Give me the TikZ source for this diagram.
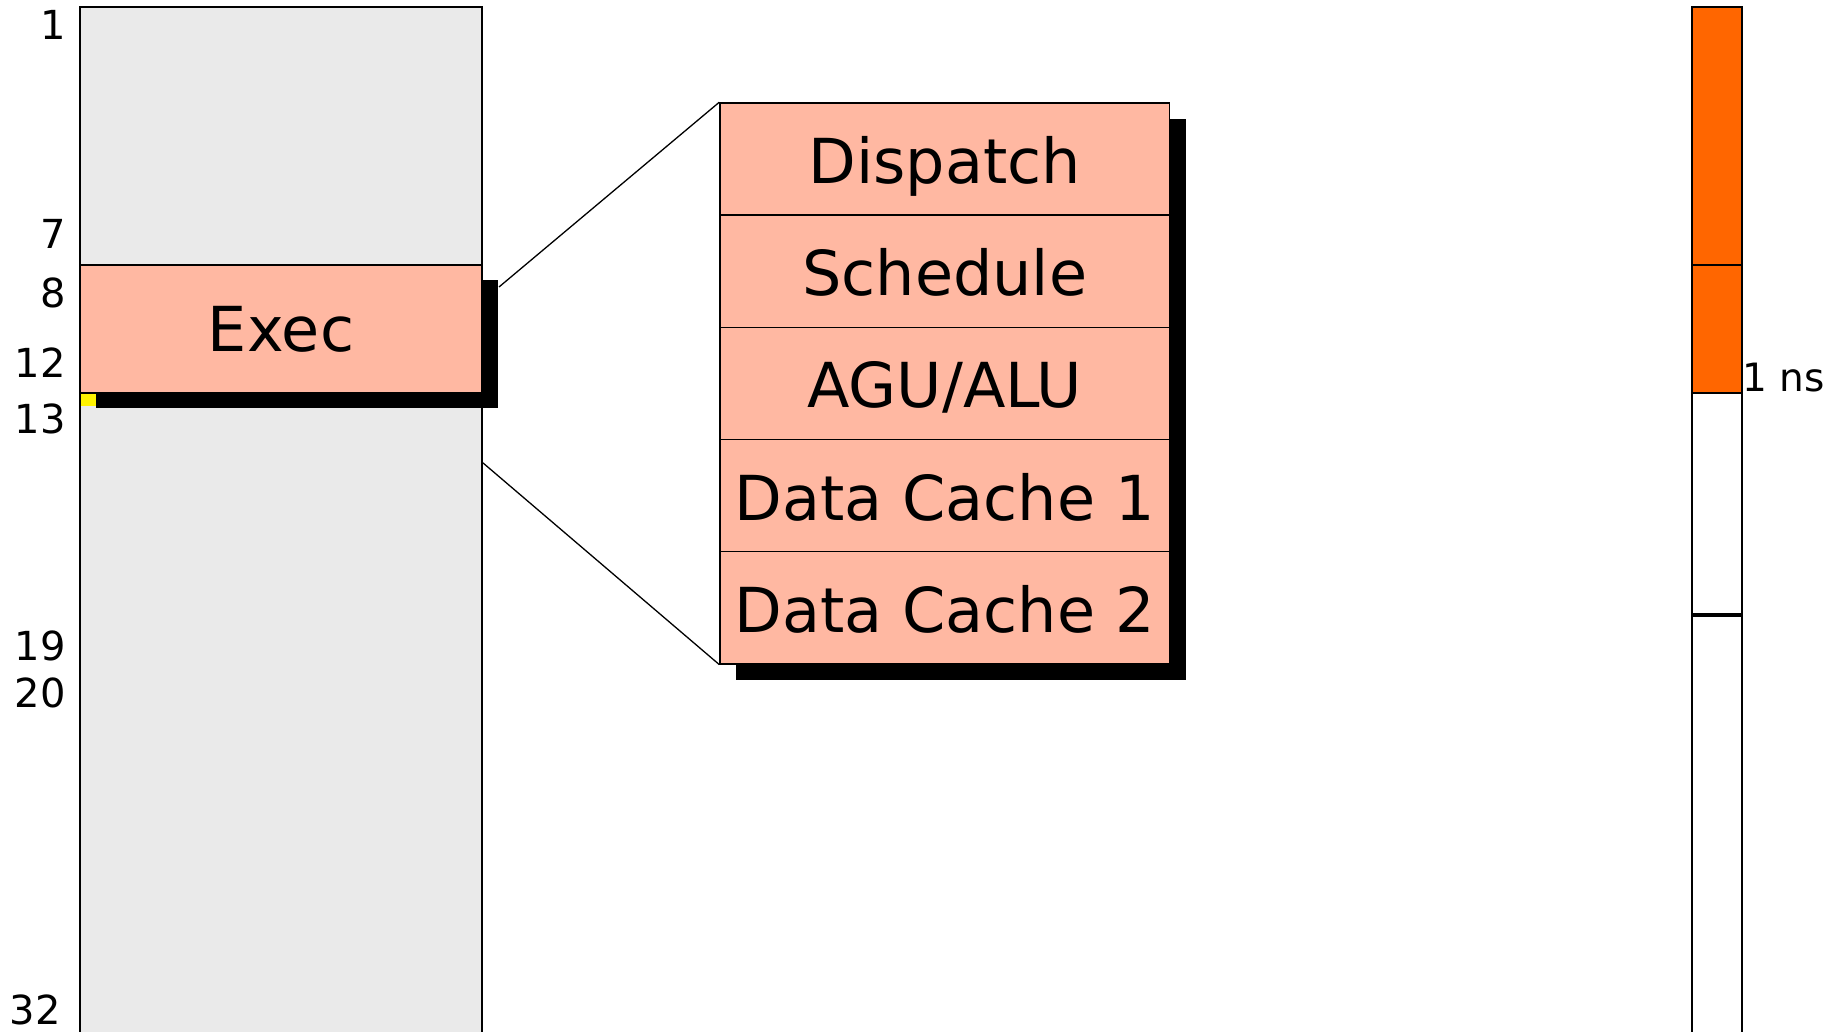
\documentclass[tikz,border=0pt]{standalone}
\usepackage{fontspec}
\setmainfont{DejaVu Sans}
\usetikzlibrary{calc,shadows}
\definecolor{stagepink}{HTML}{FFB8A2}
\definecolor{filegray}{HTML}{EAEAEA}
\definecolor{clockorange}{HTML}{FF6600}
\begin{document}
\begin{tikzpicture}[x=1pt,y=-1pt,
  column/.style={draw=black, inner sep=0pt},
  stage/.style={draw=black, line width=1.4pt, fill=stagepink,
    minimum width=449.5pt, minimum height=112.2pt, inner sep=0pt,
    font=\fontsize{62}{70}\selectfont, text height=49pt, text depth=0pt,
    drop shadow={shadow xshift=16pt, shadow yshift=-16pt, opacity=1, fill=black}},
  rowlabel/.style={anchor=base east, inner sep=0pt, font=\fontsize{40}{48}\selectfont},
  zoomline/.style={line width=1.3pt}]
\useasboundingbox (0,0) rectangle (1843,1032);

% pipeline depth column
\node[column, line width=2pt, fill=filegray, minimum width=402pt, minimum height=1040pt] (rf) at (281,527) {};
\foreach \y/\t in {40/1, 248/7, 307/8, 377/12, 433/13, 660/19, 707/20}
  \node[rowlabel] (lbl\t) at (66,\y) {\t};
\node[rowlabel] (lbl32) at (61,1024) {32};

% execute stage inside the column
\node[draw=black, line width=2pt, fill=stagepink, minimum width=402pt, minimum height=128pt,
  inner sep=0pt, font=\fontsize{62}{70}\selectfont, text height=44pt, text depth=0pt,
  drop shadow={shadow xshift=16pt, shadow yshift=-15pt, opacity=1, fill=black}]
  (exec) at (281,329) {Exec};
\fill[yellow] (81,394) rectangle (96,406);

% expanded execute stages
\node[stage] (dispatch) at (944.75,159)   {Dispatch};
\node[stage] (schedule) at (944.75,271.2) {Schedule};
\node[stage] (agu)      at (944.75,383.4) {AGU/ALU};
\node[stage] (dc1)      at (944.75,495.6) {Data Cache 1};
\node[stage] (dc2)      at (944.75,607.8) {Data Cache 2};

% zoom lines
\draw[zoomline] ($(exec.north east)+(16,23)$) -- (dispatch.north west);
\draw[zoomline] ($(rf.north east)!0.4385!(rf.south east)$) -- (dc2.south west);

% clock period bar
\node[column, line width=1.8pt, fill=white, minimum width=50pt, minimum height=1040pt] (clk) at (1717,527) {};
\draw[line width=1.8pt, fill=clockorange] (1692,7) rectangle (1742,265);
\draw[line width=1.8pt, fill=clockorange] (1692,265) rectangle (1742,393);
\draw[line width=3.6pt] (1692,615) -- (1742,615);
\node[anchor=base west, inner sep=0pt, font=\fontsize{39}{46}\selectfont] (ns) at (1742,391) {1 ns};
\end{tikzpicture}
\end{document}
